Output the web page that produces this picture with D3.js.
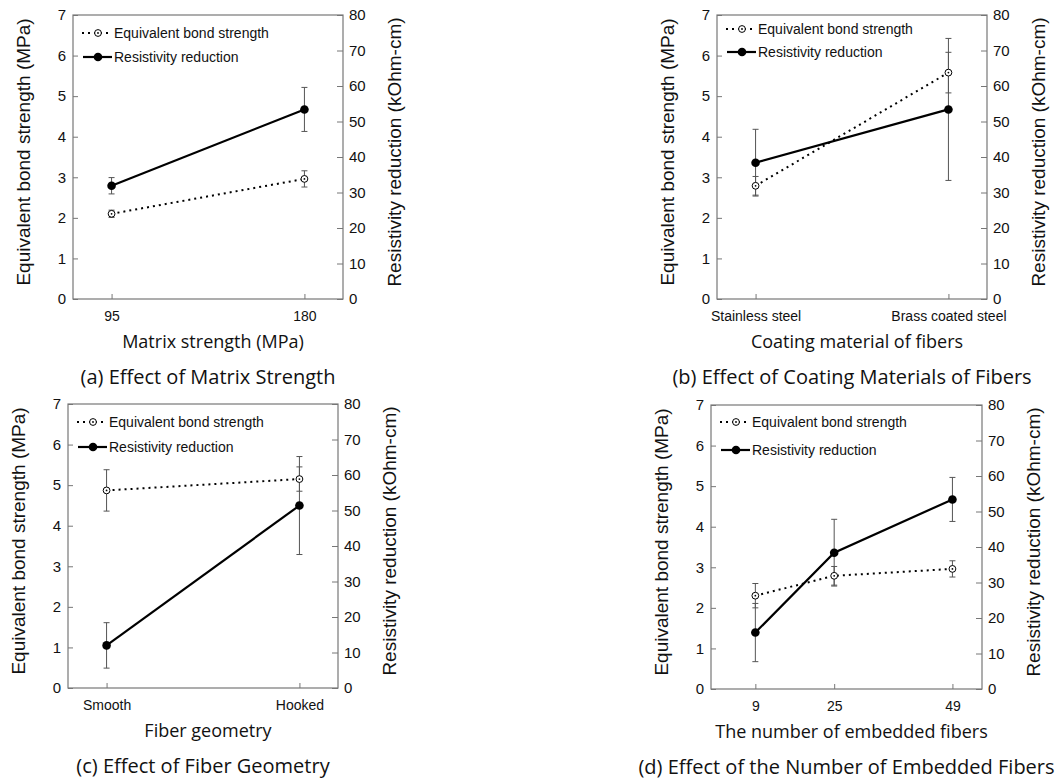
<!DOCTYPE html>
<html>
<head>
<meta charset="utf-8">
<script src="https://cdn.jsdelivr.net/npm/d3@7"></script>
<style>
  body { margin: 0; background: #fff; }
  text { fill: #111; }
</style>
</head>
<body>
<svg id="chart" width="1061" height="782"></svg>
<script>
// values
const catsA = ['95', '180']
const bondA = [2.1, 2.96]
const bondErrA = [0.09, 0.2]
const resA = [31.9, 53.4]
const resErrA = [2.3, 6.2]

const catsB = ['Stainless steel', 'Brass coated steel']
const bondB = [2.79, 5.58]
const bondErrB = [0.23, 0.5]
const resB = [38.4, 53.4]
const resErrB = [9.4, 20]

const catsC = ['Smooth', 'Hooked']
const bondC = [4.87, 5.15]
const bondErrC = [0.51, 0.3]
const resC = [12.0, 51.4]
const resErrC = [6.4, 13.8]

const fibersD = [9, 25, 49]
const bondD = [2.3, 2.79, 2.96]
const bondErrD = [0.3, 0.23, 0.2]
const resD = [15.9, 38.4, 53.4]
const resErrD = [8.2, 9.4, 6.2]

const bondTicks = [0, 1, 2, 3, 4, 5, 6, 7]
const resTicks = [0, 10, 20, 30, 40, 50, 60, 70, 80]

const legendLabels = ['Equivalent bond strength', 'Resistivity reduction']
const yTitleLeft = 'Equivalent bond strength (MPa)'
const yTitleRight = 'Resistivity reduction (kOhm-cm)'

const panels = [
  { left: 73, top: 15, w: 270, h: 284, cats: catsA, bond: bondA, bondErr: bondErrA, res: resA, resErr: resErrA,
    xTitle: 'Matrix strength (MPa)', caption: '(a) Effect of Matrix Strength', leg: [18, 42] },
  { left: 717, top: 15, w: 270, h: 284, cats: catsB, bond: bondB, bondErr: bondErrB, res: resB, resErr: resErrB,
    xTitle: 'Coating material of fibers', caption: '(b) Effect of Coating Materials of Fibers', leg: [14, 37] },
  { left: 68, top: 404, w: 270, h: 284, cats: catsC, bond: bondC, bondErr: bondErrC, res: resC, resErr: resErrC,
    xTitle: 'Fiber geometry', caption: '(c) Effect of Fiber Geometry', leg: [18, 43] },
  { left: 711, top: 405, w: 271, h: 284, cats: fibersD, numeric: true, bond: bondD, bondErr: bondErrD, res: resD, resErr: resErrD,
    xTitle: 'The number of embedded fibers', caption: '(d) Effect of the Number of Embedded Fibers', leg: [17, 45] }
]

const svg = d3.select('#chart')
const tickFont = '"Liberation Sans", Arial, sans-serif'
const titleFont = '"Open Sans", "Noto Sans", sans-serif'
const axisColor = '#777'

panels.forEach(p => {
  const g = svg.append('g').attr('transform', `translate(${p.left},${p.top})`)

  const x = p.numeric
    ? d3.scaleLinear().domain([0, 55]).range([0, p.w])
    : d3.scalePoint().domain(p.cats).range([0, p.w]).padding(0.2)
  const yL = d3.scaleLinear().domain([0, 7]).range([p.h, 0])
  const yR = d3.scaleLinear().domain([0, 80]).range([p.h, 0])

  // axes (ticks point inward)
  const xAxis = d3.axisBottom(x).tickSize(-5).tickPadding(12)
  if (p.numeric) xAxis.tickValues(p.cats).tickFormat(d3.format('d'))
  const gx = g.append('g').attr('transform', `translate(0,${p.h})`).call(xAxis)
  gx.selectAll('text').style('font-size', '14px')

  const gl = g.append('g')
    .call(d3.axisLeft(yL).tickValues(bondTicks).tickFormat(d3.format('d')).tickSize(-5).tickPadding(7))
  gl.selectAll('text').style('font-size', '15px')
  const gr = g.append('g').attr('transform', `translate(${p.w},0)`)
    .call(d3.axisRight(yR).tickValues(resTicks).tickFormat(d3.format('d')).tickSize(-6).tickPadding(6))
  gr.selectAll('text').style('font-size', '15px')

  ;[gx, gl, gr].forEach(a => {
    a.select('.domain').remove()
    a.selectAll('line').attr('stroke', axisColor)
    a.selectAll('text').style('font-family', tickFont).attr('fill', '#111')
  })

  g.append('rect').attr('width', p.w).attr('height', p.h)
    .attr('fill', 'none').attr('stroke', axisColor).attr('stroke-width', 1.2)

  const pts = p.cats.map((c, i) => ({
    x: x(c), b: p.bond[i], be: p.bondErr[i], r: p.res[i], re: p.resErr[i]
  }))

  // error bars
  const drawErr = (cx, yTop, yBot) => {
    g.append('line').attr('x1', cx).attr('x2', cx).attr('y1', yTop).attr('y2', yBot)
      .attr('stroke', '#555').attr('stroke-width', 1)
    ;[yTop, yBot].forEach(yy => {
      g.append('line').attr('x1', cx - 3).attr('x2', cx + 3).attr('y1', yy).attr('y2', yy)
        .attr('stroke', '#555').attr('stroke-width', 1)
    })
  }
  pts.forEach(d => {
    drawErr(d.x, yR(d.r + d.re), yR(d.r - d.re))
    drawErr(d.x, yL(d.b + d.be), yL(d.b - d.be))
  })

  // lines
  g.append('path').datum(pts)
    .attr('d', d3.line().x(d => d.x).y(d => yL(d.b)))
    .attr('fill', 'none').attr('stroke', '#000').attr('stroke-width', 2)
    .attr('stroke-dasharray', '2,4')
  g.append('path').datum(pts)
    .attr('d', d3.line().x(d => d.x).y(d => yR(d.r)))
    .attr('fill', 'none').attr('stroke', '#000').attr('stroke-width', 2.2)

  const openMarker = (cx, cy) => {
    g.append('circle').attr('cx', cx).attr('cy', cy).attr('r', 3.4)
      .attr('fill', '#fff').attr('stroke', '#000').attr('stroke-width', 1)
    g.append('circle').attr('cx', cx).attr('cy', cy).attr('r', 0.9).attr('fill', '#000')
  }
  const filledMarker = (cx, cy) => {
    g.append('circle').attr('cx', cx).attr('cy', cy).attr('r', 4.3).attr('fill', '#000')
  }
  pts.forEach(d => {
    openMarker(d.x, yL(d.b))
    filledMarker(d.x, yR(d.r))
  })

  // legend
  const l1 = p.leg[0], l2 = p.leg[1]
  g.append('line').attr('x1', 9).attr('x2', 39).attr('y1', l1).attr('y2', l1)
    .attr('stroke', '#000').attr('stroke-width', 2).attr('stroke-dasharray', '2,4')
  openMarker(25, l1)
  g.append('line').attr('x1', 10).attr('x2', 39).attr('y1', l2).attr('y2', l2)
    .attr('stroke', '#000').attr('stroke-width', 2.2)
  filledMarker(25, l2)
  ;[l1, l2].forEach((ly, i) => {
    g.append('text').attr('x', 41).attr('y', ly).attr('dy', '0.35em')
      .style('font-family', tickFont).style('font-size', '14px')
      .text(legendLabels[i])
  })

  // axis titles
  const midY = p.h / 2 - 5
  g.append('text').attr('transform', `translate(${-43},${midY}) rotate(-90)`)
    .attr('text-anchor', 'middle')
    .style('font-family', tickFont).style('font-size', '19px')
    .text(yTitleLeft)
  g.append('text').attr('transform', `translate(${p.w + 58},${midY}) rotate(-90)`)
    .attr('text-anchor', 'middle')
    .style('font-family', tickFont).style('font-size', '19px')
    .text(yTitleRight)
  g.append('text').attr('x', p.w / 2 + 5).attr('y', p.h + 49)
    .attr('text-anchor', 'middle')
    .style('font-family', titleFont).style('font-size', '18px')
    .text(p.xTitle)
  g.append('text').attr('x', p.w / 2).attr('y', p.h + 85)
    .attr('text-anchor', 'middle')
    .style('font-family', titleFont).style('font-size', '20px')
    .text(p.caption)
})
</script>
</body>
</html>
